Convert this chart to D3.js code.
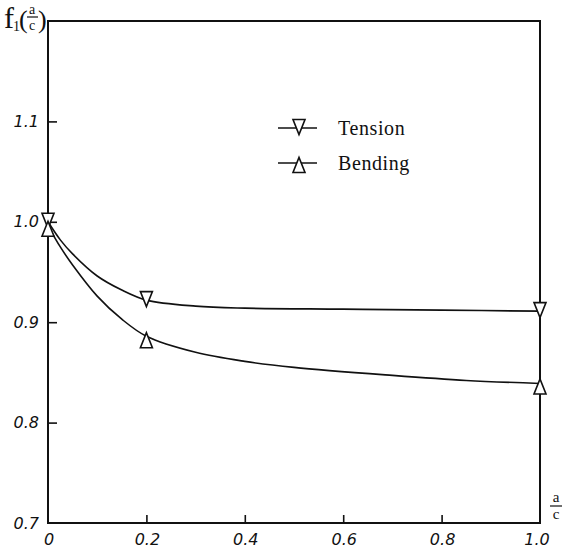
<!DOCTYPE html>
<html>
<head>
<meta charset="utf-8">
<script src="https://cdn.jsdelivr.net/npm/d3@7"></script>
<style>
  body { margin: 0; background: #fff; }
  svg { display: block; }
</style>
</head>
<body>
<div id="chart"></div>
<script>
// tick labels (as printed)
var xTicks = [0, 0.2, 0.4, 0.6, 0.8, 1.0];
var xTickLabels = ["0", "0.2", "0.4", "0.6", "0.8", "1.0"];
var yTicks = [0.7, 0.8, 0.9, 1.0, 1.1];
var yTickLabels = ["0.7", "0.8", "0.9", "1.0", "1.1"];

// measured points (markers)
var markerX = [0, 0.2, 1.0];
var tensionMarkers = [1.0, 0.922, 0.911];
var bendingMarkers = [0.996, 0.885, 0.839];

// fitted curves
var tensionCurveX = [0, 0.025, 0.05, 0.1, 0.15, 0.2, 0.3, 0.4, 0.6, 0.8, 1.0];
var tensionCurveY = [1.0, 0.982, 0.968, 0.946, 0.932, 0.922, 0.916, 0.914, 0.913, 0.912, 0.911];
var bendingCurveX = [0, 0.025, 0.05, 0.1, 0.15, 0.2, 0.3, 0.4, 0.5, 0.7, 0.85, 1.0];
var bendingCurveY = [0.996, 0.975, 0.957, 0.926, 0.903, 0.886, 0.870, 0.861, 0.855, 0.847, 0.842, 0.839];

var W = 562, H = 548;
var margin = {left: 48, right: 22, top: 21, bottom: 25};
var ink = "#111";

var svg = d3.select("#chart").append("svg")
    .attr("width", W)
    .attr("height", H);

var x = d3.scaleLinear().domain([0, 1.0]).range([margin.left, W - margin.right]);
var y = d3.scaleLinear().domain([0.7, 1.2]).range([H - margin.bottom, margin.top]);

// frame
svg.append("rect")
    .attr("x", x(0))
    .attr("y", y(1.2))
    .attr("width", x(1) - x(0))
    .attr("height", y(0.7) - y(1.2))
    .attr("fill", "none")
    .attr("stroke", ink)
    .attr("stroke-width", 2);

// bottom ticks, pointing up into the plot
var xAxis = d3.axisTop(x)
    .tickValues(xTicks.slice(1, -1))
    .tickSize(8)
    .tickFormat("");
svg.append("g")
    .attr("transform", "translate(0," + y(0.7) + ")")
    .call(xAxis)
    .call(g => g.select(".domain").remove())
    .call(g => g.selectAll("line").attr("stroke", ink).attr("stroke-width", 1.6));

// left ticks, pointing right
var yAxis = d3.axisRight(y)
    .tickValues(yTicks.slice(1))
    .tickSize(9)
    .tickFormat("");
svg.append("g")
    .attr("transform", "translate(" + x(0) + ",0)")
    .call(yAxis)
    .call(g => g.select(".domain").remove())
    .call(g => g.selectAll("line").attr("stroke", ink).attr("stroke-width", 1.6));

// tick labels
var labelFont = "'DejaVu Sans', sans-serif";
xTicks.forEach(function(t, i) {
    svg.append("text")
        .attr("x", x(t) + (i === xTicks.length - 1 ? -3 : 1))
        .attr("y", y(0.7) + 22)
        .attr("text-anchor", "middle")
        .style("font-family", labelFont)
        .style("font-style", "italic")
        .style("font-size", "16px")
        .style("fill", ink)
        .text(xTickLabels[i]);
});
yTicks.forEach(function(t, i) {
    svg.append("text")
        .attr("x", x(0) - 9)
        .attr("y", y(t))
        .attr("dy", "0.35em")
        .attr("text-anchor", "end")
        .style("font-family", labelFont)
        .style("font-style", "italic")
        .style("font-size", "16px")
        .style("fill", ink)
        .text(yTickLabels[i]);
});

// curves
var line = d3.line()
    .x(d => x(d[0]))
    .y(d => y(d[1]))
    .curve(d3.curveCatmullRom.alpha(0.5));

[[tensionCurveX, tensionCurveY], [bendingCurveX, bendingCurveY]].forEach(function(c) {
    svg.append("path")
        .datum(c[0].map((v, i) => [v, c[1][i]]))
        .attr("d", line)
        .attr("fill", "none")
        .attr("stroke", ink)
        .attr("stroke-width", 1.6);
});

// triangle markers
function tri(cx, cy, down) {
    var w = 6, h = 7.5;
    if (down) return "M" + (cx - w) + "," + (cy - h) + "L" + (cx + w) + "," + (cy - h) + "L" + cx + "," + (cy + h) + "Z";
    return "M" + (cx - w) + "," + (cy + h) + "L" + (cx + w) + "," + (cy + h) + "L" + cx + "," + (cy - h) + "Z";
}

svg.append("g").selectAll("path")
    .data(markerX.map((v, i) => [v, tensionMarkers[i]]))
    .join("path")
    .attr("d", d => tri(x(d[0]), y(d[1]) - 1, true))
    .attr("fill", "#fff")
    .attr("stroke", ink)
    .attr("stroke-width", 1.6);

svg.append("g").selectAll("path")
    .data(markerX.map((v, i) => [v, bendingMarkers[i]]))
    .join("path")
    .attr("d", d => tri(x(d[0]), y(d[1]) + 3, false))
    .attr("fill", "#fff")
    .attr("stroke", ink)
    .attr("stroke-width", 1.6);

// legend
var legend = [["Tension", true], ["Bending", false]];
legend.forEach(function(d, i) {
    var ly = 128 + i * 35;
    svg.append("line")
        .attr("x1", 278).attr("x2", 317)
        .attr("y1", ly).attr("y2", ly)
        .attr("stroke", ink).attr("stroke-width", 1.6);
    svg.append("path")
        .attr("d", tri(299, d[1] ? ly - 1 : ly + 2, d[1]))
        .attr("fill", "#fff")
        .attr("stroke", ink)
        .attr("stroke-width", 1.6);
    svg.append("text")
        .attr("x", 338)
        .attr("y", ly + 7)
        .style("font-family", "'Liberation Serif', serif")
        .style("font-size", "20px")
        .style("letter-spacing", "0.6px")
        .style("fill", ink)
        .text(d[0]);
});

// axis titles: f1(a/c) and a/c
var serif = "'Liberation Serif', serif";
var title = svg.append("g").style("font-family", serif).style("fill", ink);
title.append("text").attr("x", 4).attr("y", 28).style("font-size", "30px").text("f");
title.append("text").attr("x", 13).attr("y", 31).style("font-size", "14px").text("1");
title.append("text").attr("x", 19).attr("y", 28).style("font-size", "26px").text("(");
title.append("text").attr("x", 32).attr("y", 14).attr("text-anchor", "middle").style("font-size", "14px").text("a");
title.append("line").attr("x1", 27).attr("x2", 38).attr("y1", 17).attr("y2", 17).attr("stroke", ink).attr("stroke-width", 1.2);
title.append("text").attr("x", 32).attr("y", 30).attr("text-anchor", "middle").style("font-size", "14px").text("c");
title.append("text").attr("x", 38).attr("y", 28).style("font-size", "26px").text(")");

title.append("text").attr("x", 556).attr("y", 502).attr("text-anchor", "middle").style("font-size", "15px").text("a");
title.append("line").attr("x1", 550).attr("x2", 562).attr("y1", 506).attr("y2", 506).attr("stroke", ink).attr("stroke-width", 1.2);
title.append("text").attr("x", 556).attr("y", 519).attr("text-anchor", "middle").style("font-size", "15px").text("c");
</script>
</body>
</html>
